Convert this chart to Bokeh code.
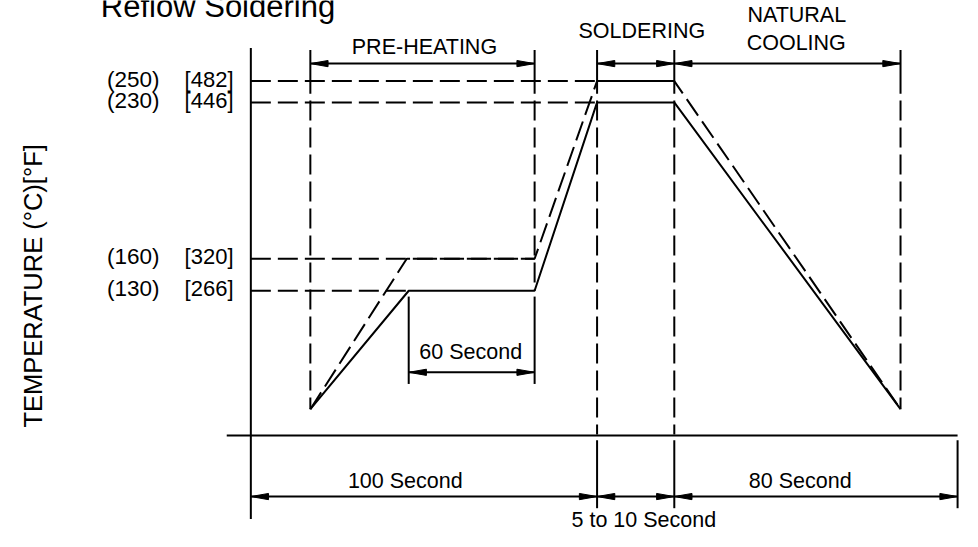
import numpy as np
from bokeh.plotting import figure
from bokeh.models import Range1d
from bokeh.core.properties import value
from bokeh.embed import file_html
from bokeh.resources import INLINE

# ---------------- data ----------------
title = "Reflow Soldering"
y_title = "TEMPERATURE (°C)[°F]"
temps_c = [250, 230, 160, 130]
temps_f = [482, 446, 320, 266]
phase_names = ["PRE-HEATING", "SOLDERING", "NATURAL", "COOLING"]
hold_label = "60 Second"
duration_labels = ["100 Second", "5 to 10 Second", "80 Second"]
# solid profile (min) and dashed profile (max), temperatures in °C ("start" = ambient)
profile_min = ["start", 130, 130, 230, 230, "start"]
profile_max = ["start", 160, 160, 250, 250, "start"]

# ---------------- schematic layout (reference-pixel units) ----------------
LEVEL_Y = {250: 83, 230: 105, 160: 266, 130: 299, "start": 421}
X_AXIS = 254.5
X_PRE = 315
X_HOLD_MIN = 415
X_HOLD_MAX = 413
X_PRE_END = 543
X_SOL = 606.5
X_SOL_END = 685
X_COOL_END = 915
X_END = 973
Y_TOP = 51
Y_BASE = 448
Y_DIM_TOP = 65
Y_DIM_BOT = 511
Y_HOLD_DIM = 383

FONT = value("Liberation Sans")
LW = 2
DASH = "20 7"

p = figure(width=962, height=531, output_backend="svg", toolbar_location=None,
           x_range=Range1d(0, 978), y_range=Range1d(547, 0),
           x_axis_type=None, y_axis_type=None, min_border=0)
p.grid.visible = False
p.outline_line_color = None
p.background_fill_color = "white"
p.border_fill_color = "white"

# ---- dashed temperature reference lines ----
ends = {250: X_SOL_END, 230: X_SOL, 160: X_PRE_END, 130: X_HOLD_MIN}
p.multi_line(xs=[[X_AXIS, ends[t]] for t in temps_c],
             ys=[[LEVEL_Y[t], LEVEL_Y[t]] for t in temps_c],
             line_color="black", line_width=LW, line_dash=DASH)

# ---- dashed vertical phase lines ----
vx = [X_PRE, X_PRE_END, X_SOL, X_SOL_END, X_COOL_END]
vbot = [LEVEL_Y["start"], LEVEL_Y[130], Y_BASE - 1, Y_BASE - 1, LEVEL_Y["start"]]
p.multi_line(xs=[[x, x] for x in vx], ys=[[Y_TOP + 52, b] for b in vbot],
             line_color="black", line_width=LW, line_dash=DASH)
p.multi_line(xs=[[x, x] for x in vx], ys=[[Y_TOP, Y_TOP + 45] for _ in vx],
             line_color="black", line_width=LW)

# ---- profiles ----
t_min = [X_PRE, X_HOLD_MIN, X_PRE_END, X_SOL, X_SOL_END, X_COOL_END]
t_max = [X_PRE, X_HOLD_MAX, X_PRE_END, X_SOL, X_SOL_END, X_COOL_END]
p.line(t_min, [LEVEL_Y[t] for t in profile_min], line_color="black", line_width=LW)
p.line(t_max, [LEVEL_Y[t] for t in profile_max], line_color="black", line_width=LW,
       line_dash=DASH)

# ---- solid frame / extension lines ----
sx = [[X_AXIS, X_AXIS], [230, X_END],
      [X_HOLD_MIN, X_HOLD_MIN], [X_PRE_END, X_PRE_END],
      [X_SOL, X_SOL], [X_SOL_END, X_SOL_END], [X_END, X_END]]
sy = [[Y_TOP - 2, 534], [Y_BASE, Y_BASE],
      [LEVEL_Y[130] + 6, 395], [LEVEL_Y[130] + 6, 395],
      [Y_BASE + 5, 523], [Y_BASE + 5, 523], [Y_BASE + 5, 523]]
p.multi_line(xs=sx, ys=sy, line_color="black", line_width=LW)

# ---- dimension arrows ----
dims = [(Y_DIM_TOP, X_PRE, X_PRE_END), (Y_DIM_TOP, X_SOL, X_SOL_END),
        (Y_DIM_TOP, X_SOL_END, X_COOL_END), (Y_HOLD_DIM, X_HOLD_MIN, X_PRE_END),
        (Y_DIM_BOT, X_AXIS, X_SOL), (Y_DIM_BOT, X_SOL, X_SOL_END),
        (Y_DIM_BOT, X_SOL_END, X_END)]
p.multi_line(xs=[[a, b] for _, a, b in dims], ys=[[y, y] for y, _, _ in dims],
             line_color="black", line_width=LW)
HL, HW = 18, 3.2
hx, hy = [], []
for y, a, b in dims:
    hx.append([a, a + HL, a + HL]); hy.append([y, y - HW, y + HW])
    hx.append([b, b - HL, b - HL]); hy.append([y, y - HW, y + HW])
p.patches(hx, hy, fill_color="black", line_color="black", line_width=1)

# ---- texts ----
TS = "21.5px"
p.text(x=[135] * 4, y=[LEVEL_Y[t] - 2 for t in temps_c], text=[f"({c})" for c in temps_c],
       text_font=FONT, text_font_size="22.5px", text_align="center", text_baseline="middle")
p.text(x=[212] * 4, y=[LEVEL_Y[t] - 2 for t in temps_c], text=[f"[{f}]" for f in temps_f],
       text_font=FONT, text_font_size="22px", text_align="center", text_baseline="middle")
p.text(x=[431, 652, 809.5, 809], y=[48, 31, 15, 44], text=phase_names,
       text_font=FONT, text_font_size=TS, text_align="center", text_baseline="middle")
p.text(x=[478], y=[362], text=[hold_label],
       text_font=FONT, text_font_size=TS, text_align="center", text_baseline="middle")
p.text(x=[411.5, 654, 813], y=[494.5, 535.5, 494.5], text=duration_labels,
       text_font=FONT, text_font_size=TS, text_align="center", text_baseline="middle")
p.text(x=[33], y=[294], text=[y_title], angle=np.pi / 2,
       text_font=FONT, text_font_size="25.5px", text_align="center", text_baseline="middle")
p.text(x=[102], y=[6], text=[title],
       text_font=FONT, text_font_size="31px", text_align="left", text_baseline="middle")

open("out.html", "w").write(file_html(p, INLINE))
